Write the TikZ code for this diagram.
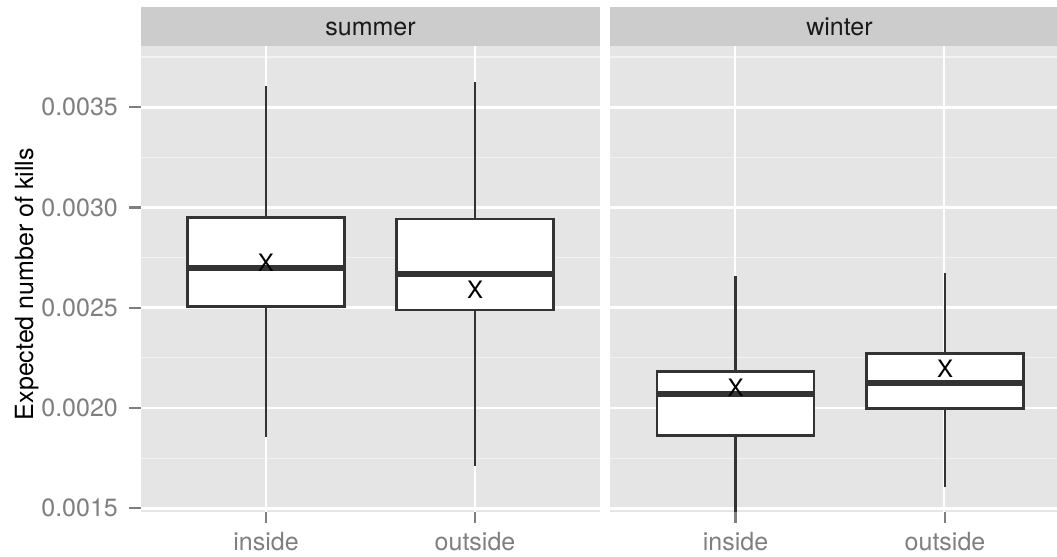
\documentclass[tikz,border=0pt]{standalone}
\usepackage{fontspec}
\setmainfont{TeX Gyre Heros}
\usepackage{xcolor}
\usepackage{tikz}
\usetikzlibrary{positioning}

\definecolor{panelgrey}{HTML}{E5E5E5}
\definecolor{stripgrey}{HTML}{CCCCCC}
\definecolor{minorgrey}{HTML}{F2F2F2}
\definecolor{tickgrey}{HTML}{7F7F7F}
\definecolor{boxgrey}{HTML}{333333}
\definecolor{stripblack}{HTML}{1A1A1A}

\begin{document}
\begin{tikzpicture}[x=1pt, y=20.06pt, font=\fontsize{25}{30}\selectfont]
    \tikzstyle{majorgrid} = [draw=white, line width=2.8pt];
    \tikzstyle{minorgrid} = [draw=minorgrey, line width=1.2pt];
    \tikzstyle{tickmark} = [draw=tickgrey, line width=2.2pt];
    \tikzstyle{ticklabel} = [text=tickgrey, inner sep=0pt];
    \tikzstyle{whisker} = [draw=boxgrey, line width=2.8pt];
    \tikzstyle{boxbody} = [whisker, fill=white];
    \tikzstyle{medianline} = [draw=boxgrey, line width=5.5pt];
    \tikzstyle{meanmark} = [inner sep=0pt, font=\fontsize{24}{28}\selectfont];
    \tikzstyle{facet} = [inner sep=0pt, text=stripblack];

    \useasboundingbox (0,12.622) rectangle (1057,40.34);
    \clip (0,12.622) rectangle (1057,40.34);

    % facet panels, strips and grid
    \foreach \l/\name in {141/summer, 610/winter} {
        \fill[stripgrey] (\l,38.06) rectangle ++(459,1.94);
        \fill[panelgrey] (\l,14.815) rectangle ++(459,23.245);
        \node[facet, anchor=base] (strip-\name) at (\l+229.5,38.55) {\name};
        \foreach \v in {17.5,22.5,27.5,32.5,37.5}
            \draw[minorgrid] (\l,\v) -- ++(459,0);
        \foreach \v in {15,20,...,35}
            \draw[majorgrid] (\l,\v) -- ++(459,0);
        \foreach \dx in {125,334}
            \draw[majorgrid] (\l+\dx,14.815) -- (\l+\dx,38.06);
    }

    % y axis
    \foreach \v/\lab in {15/0.0015, 20/0.0020, 25/0.0025, 30/0.0030, 35/0.0035} {
        \draw[tickmark] (129,\v) -- (141,\v);
        \node[ticklabel, anchor=east] (ylab\v) at (118,\v) {\lab};
    }
    \node[rotate=90, anchor=base, inner sep=0pt] (ytitle) at (33,26.18) {Expected number of kills};

    % x axis
    \foreach \x/\lab/\n in {266/inside/1, 475/outside/2, 735.5/inside/3, 945/outside/4} {
        \draw[tickmark] (\x,14.815) -- (\x,14.27);
        \node[ticklabel, anchor=base] (xlab\n) at (\x,12.92) {\lab};
    }

    % boxes: x / lower whisker / q1 / median / q3 / upper whisker / mean
    \foreach \x/\lo/\qa/\md/\qb/\hi/\mn/\n in {266/18.55/25.07/26.98/29.51/36.05/27.23/si,
            475/17.11/24.89/26.68/29.42/36.25/25.92/so,
            735.5/14.82/18.65/20.70/21.84/26.58/21.00/wi,
            945/16.06/19.99/21.24/22.70/26.73/21.94/wo} {
        \draw[whisker] (\x,\lo) -- (\x,\qa);
        \draw[whisker] (\x,\qb) -- (\x,\hi);
        \draw[boxbody] (\x-78.5,\qa) rectangle (\x+78.5,\qb);
        \draw[medianline] (\x-78.5,\md) -- (\x+78.5,\md);
        \node[meanmark] (mean-\n) at (\x,\mn) {X};
    }
\end{tikzpicture}
\end{document}
